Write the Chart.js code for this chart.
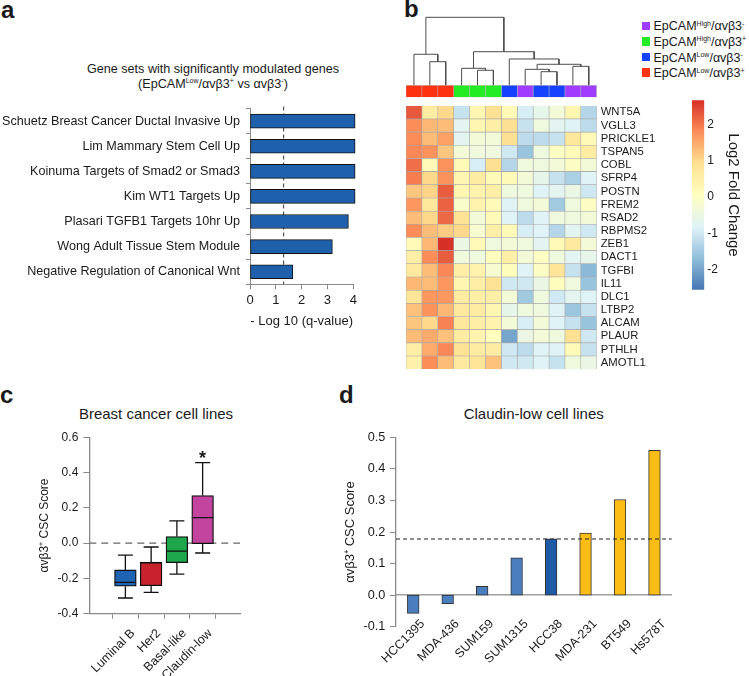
<!DOCTYPE html>
<html><head><meta charset="utf-8">
<script src="https://cdn.jsdelivr.net/npm/chart.js@4.4.1/dist/chart.umd.min.js"></script>
<style>
html,body{margin:0;padding:0;background:#fff;}
body{width:749px;height:676px;position:relative;overflow:hidden;font-family:"Liberation Sans",Arial,sans-serif;color:#1a1a1a;}
canvas{position:absolute;}
.t{position:absolute;white-space:nowrap;line-height:1;transform:translate(-50%,-50%);}
.tl{position:absolute;white-space:nowrap;line-height:1;transform:translate(0,-50%);}
.lbl{position:absolute;font-weight:bold;font-size:24px;line-height:24px;}
.sp{font-size:7px;position:relative;top:-4.5px;}
.sq{position:absolute;width:8.3px;height:8.3px;}
</style></head>
<body>
<div class="lbl" style="left:1px;top:-2.3px">a</div>
<div class="lbl" style="left:404px;top:-3.3px">b</div>
<div class="lbl" style="left:0px;top:382.7px">c</div>
<div class="lbl" style="left:339px;top:382.7px">d</div>

<div class="t" style="left:213px;top:69.3px;font-size:12.6px">Gene sets with significantly modulated genes</div>
<div class="t" style="left:213px;top:83.5px;font-size:12.6px">(EpCAM<span class="sp">Low</span>/αvβ3<span class="sp">+</span> vs αvβ3<span class="sp">-</span>)</div>

<div class="t" style="left:156px;top:412.7px;font-size:15px">Breast cancer cell lines</div>
<div class="t" style="left:533.7px;top:412.7px;font-size:15px">Claudin-low cell lines</div>

<div id="legend"></div>

<script>
// ---------------- DATA ----------------
// Panel a
const geneSetLabels = [
  'Schuetz Breast Cancer Ductal Invasive Up',
  'Lim Mammary Stem Cell Up',
  'Koinuma Targets of Smad2 or Smad3',
  'Kim WT1 Targets Up',
  'Plasari TGFB1 Targets 10hr Up',
  'Wong Adult Tissue Stem Module',
  'Negative Regulation of Canonical Wnt'
];
const geneSetValues = [4.07, 4.07, 4.07, 4.07, 3.81, 3.19, 1.66];
const qThreshold = 1.3;
const geneSetTicks = [0, 1, 2, 3, 4];

// Panel b
const heatmapGenes = ['WNT5A','VGLL3','PRICKLE1','TSPAN5','COBL','SFRP4','POSTN','FREM2','RSAD2','RBPMS2',
  'ZEB1','DACT1','TGFBI','IL11','DLC1','LTBP2','ALCAM','PLAUR','PTHLH','AMOTL1'];
const heatmapGroups = ['LowPos','LowPos','LowPos','HighPos','HighPos','HighPos','LowNeg','HighNeg','LowNeg','LowNeg','HighNeg','HighNeg'];
const heatmapValues = [
  [2.3, 0.6, 1.0, -1.1, 0.3, 0.9, 0.2, -0.9, -0.6, -0.3, 0.3, -1.3],
  [1.8, 1.35, 1.3, -0.7, 0.3, 0.5, 0.9, -1.1, -0.4, -0.7, -0.8, -1.2],
  [1.8, 1.3, 1.6, -0.7, -0.3, -0.3, 0.9, -1.2, -1.2, -1.1, 0.7, 0.2],
  [1.85, 1.75, 1.2, -0.3, -0.4, -0.4, -1.0, -1.6, -0.4, 0.0, 0.2, 0.6],
  [2.1, 0.2, 1.75, 0.2, -0.9, 0.9, -1.3, -0.4, -0.4, -0.3, 0.0, -0.3],
  [1.95, 1.0, 1.75, 0.3, 0.6, 0.2, 0.2, -0.3, -0.6, -1.1, -1.4, -0.8],
  [1.2, 1.05, 2.25, 0.3, 0.4, 0.5, -0.4, -0.4, -0.8, -0.7, -0.5, -1.0],
  [1.7, 0.7, 2.2, -0.1, 0.4, 0.2, -0.8, -0.4, -0.3, -1.5, -0.4, 0.0],
  [1.3, 1.0, 2.15, 0.85, -0.3, 0.2, -0.8, -1.2, -0.8, -0.4, -0.4, -0.3],
  [1.8, 1.3, 1.15, 1.0, -0.2, 0.5, 0.2, -0.9, -0.8, -1.3, -0.7, -1.0],
  [0.2, 1.35, 2.67, -0.5, 0.2, -0.4, -0.3, -0.4, -0.7, 0.2, 0.65, -0.3],
  [0.5, 1.8, 2.25, -0.4, -0.4, 0.1, 0.5, -0.3, 0.0, -0.4, -0.7, -0.6],
  [0.65, 1.3, 1.85, 0.5, 0.4, -0.2, 0.1, -0.8, 0.0, 0.8, -1.1, -1.75],
  [1.35, 1.3, 1.7, 0.3, 0.5, 0.85, -1.0, -1.0, -0.5, 0.1, -0.4, -1.6],
  [0.8, 1.7, 1.7, 0.6, 0.5, 0.5, -0.3, -1.5, -0.4, -1.0, -0.7, -0.8],
  [1.25, 1.75, 1.35, 0.65, 0.6, 0.3, -0.6, -0.4, -0.4, -0.8, -1.55, -1.1],
  [1.2, 1.0, 1.9, 0.7, 0.5, 0.4, -0.3, -0.9, -0.3, -0.8, -1.1, -1.6],
  [1.3, 1.5, 1.25, 0.6, 0.4, 0.1, -2.0, -0.5, -0.3, -0.4, 0.9, -1.0],
  [0.5, 1.5, 1.85, 0.85, 0.6, 0.6, -1.0, -1.2, -0.8, -0.8, 0.2, -1.1],
  [0.45, 1.8, 1.3, 0.65, 0.8, 1.25, -1.0, -1.0, -0.8, -1.1, -0.4, -0.5]
];
// hierarchical clustering merges: [childA, childB, height]; leaves 0..11, merge k -> node 12+k
const dendroMerges = [
  [1, 2, 3.47],
  [0, 12, 4.56],
  [4, 5, 2.21],
  [3, 14, 2.50],
  [8, 9, 2.00],
  [7, 16, 2.35],
  [10, 11, 2.79],
  [17, 18, 3.09],
  [6, 19, 3.87],
  [15, 20, 4.94],
  [13, 21, 10.0]
];
const legendGroups = ['HighNeg', 'HighPos', 'LowNeg', 'LowPos'];
const legendLabels = {
  HighNeg: 'EpCAM<span class="sp">High</span>/αvβ3<span class="sp">-</span>',
  HighPos: 'EpCAM<span class="sp">High</span>/αvβ3<span class="sp">+</span>',
  LowNeg: 'EpCAM<span class="sp">Low</span>/αvβ3<span class="sp">-</span>',
  LowPos: 'EpCAM<span class="sp">Low</span>/αvβ3<span class="sp">+</span>'
};
const colorbarRange = [-2.55, 2.67];
const colorbarTicks = [-2, -1, 0, 1, 2];

// Panel c
const boxCategories = ['Luminal B', 'Her2', 'Basal-like', 'Claudin-low'];
const boxMin    = [-0.311, -0.279, -0.176, -0.056];
const boxQ1     = [-0.244, -0.241, -0.111, -0.003];
const boxMedian = [-0.222, -0.112, -0.046, 0.144];
const boxQ3     = [-0.152, -0.108, 0.037, 0.269];
const boxMax    = [-0.068, -0.022, 0.126, 0.456];
const boxSignificance = ['', '', '', '*'];

// Panel d
const claudinLines = ['HCC1395', 'MDA-436', 'SUM159', 'SUM1315', 'HCC38', 'MDA-231', 'BT549', 'Hs578T'];
const claudinScores = [-0.058, -0.027, 0.028, 0.118, 0.178, 0.197, 0.303, 0.459];
const claudinThreshold = 0.178;

// ---------------- STYLES ----------------
const FONT = '"Liberation Sans", Arial, sans-serif';
const palette = ['#4575B4','#91BFDB','#E0F3F8','#FFFFBF','#FEE090','#FC8D59','#D73027'];
const groupColors = {LowPos:'#ff3212', HighPos:'#24ec24', LowNeg:'#1442ff', HighNeg:'#a03cff'};
const boxColors = ['#1f63b3', '#c8232c', '#1ea64b', '#c2449f'];
const claudinColors = ['#4a7ebf','#4a7ebf','#4a7ebf','#4a7ebf','#1f5aa6','#fbbc16','#fbbc16','#fbbc16'];
const axisGrey = '#8a8a8a';

Chart.defaults.font.family = FONT;
Chart.defaults.color = '#1a1a1a';
Chart.defaults.animation = false;
Chart.defaults.responsive = false;
Chart.defaults.devicePixelRatio = 1;
Chart.defaults.events = [];
Chart.defaults.plugins.legend.display = false;
Chart.defaults.plugins.tooltip.enabled = false;

function makeCanvas(left, top, w, h) {
  const c = document.createElement('canvas');
  c.width = w; c.height = h;
  c.style.left = left + 'px'; c.style.top = top + 'px';
  c.style.width = w + 'px'; c.style.height = h + 'px';
  document.body.appendChild(c);
  return c;
}
function hexToRgb(h) { return [parseInt(h.slice(1,3),16), parseInt(h.slice(3,5),16), parseInt(h.slice(5,7),16)]; }
function valueToColor(v) {
  let t = (v - colorbarRange[0]) / (colorbarRange[1] - colorbarRange[0]);
  t = Math.max(0, Math.min(1, t));
  const s = t * (palette.length - 1);
  const i = Math.min(Math.floor(s), palette.length - 2);
  const f = s - i;
  const a = hexToRgb(palette[i]), b = hexToRgb(palette[i+1]);
  const c = a.map((x, k) => Math.round(x + (b[k] - x) * f));
  return 'rgb(' + c.join(',') + ')';
}

// ---------------- LEGEND (b) ----------------
const legendEl = document.getElementById('legend');
legendGroups.forEach((g, i) => {
  const y = 25.8 + i * 15.6;
  const sq = document.createElement('div');
  sq.className = 'sq'; sq.style.left = '641.7px'; sq.style.top = (y - 4.15) + 'px'; sq.style.background = groupColors[g];
  legendEl.appendChild(sq);
  const tx = document.createElement('div');
  tx.className = 'tl'; tx.style.left = '653.5px'; tx.style.top = (y + 0.5) + 'px'; tx.style.fontSize = '12.5px';
  tx.innerHTML = legendLabels[g];
  legendEl.appendChild(tx);
});

// ---------------- PANEL A ----------------
new Chart(makeCanvas(0, 95, 370, 240), {
  type: 'bar',
  data: { labels: geneSetLabels, datasets: [{
    data: geneSetValues, backgroundColor: '#1f60ad', borderColor: '#111', borderWidth: 1,
    borderSkipped: false, barThickness: 14, clip: false }] },
  options: {
    indexAxis: 'y',
    layout: { padding: { top: 13, right: 16.7, bottom: 0, left: 0 } },
    scales: {
      x: { type: 'linear', min: 0, max: 4,
        afterBuildTicks: ax => { ax.ticks = geneSetTicks.map(v => ({ value: v })); },
        ticks: { padding: 3, font: { size: 13 }, color: '#1a1a1a' },
        grid: { drawOnChartArea: false, tickLength: 5, color: axisGrey },
        border: { color: axisGrey, width: 1 },
        title: { display: true, text: '- Log 10 (q-value)', font: { size: 13 }, color: '#1a1a1a', padding: { top: 0, bottom: 6.2 } },
        afterFit: s => { s.height = 50.7; } },
      y: { type: 'category',
        ticks: { padding: 6, font: { size: 12.6 }, color: '#1a1a1a', autoSkip: false },
        grid: { drawOnChartArea: false, tickLength: 4, color: axisGrey },
        border: { color: axisGrey, width: 1 },
        afterFit: s => { s.width = 250; } }
    }
  },
  plugins: [{ id: 'qline', beforeDatasetsDraw(ch) {
    const ctx = ch.ctx, x = ch.scales.x.getPixelForValue(qThreshold), a = ch.chartArea;
    ctx.save(); ctx.setLineDash([4, 3]); ctx.strokeStyle = '#555'; ctx.lineWidth = 1.2;
    ctx.beginPath(); ctx.moveTo(x, a.top - 2); ctx.lineTo(x, a.bottom); ctx.stroke(); ctx.restore();
  } }]
});

// ---------------- PANEL B: dendrogram ----------------
const nodePos = [], nodeH = [];
heatmapGroups.forEach((g, i) => { nodePos[i] = i + 0.5; nodeH[i] = 0; });
const dendroSets = dendroMerges.map(([a, b, h], k) => {
  const id = heatmapGroups.length + k;
  nodePos[id] = (nodePos[a] + nodePos[b]) / 2; nodeH[id] = h;
  return { data: [{x: nodePos[a], y: nodeH[a]}, {x: nodePos[a], y: h}, {x: nodePos[b], y: h}, {x: nodePos[b], y: nodeH[b]}],
    showLine: true, pointRadius: 0, borderColor: '#4d4d4d', borderWidth: 1, clip: false, tension: 0, fill: false };
});
new Chart(makeCanvas(400, 10, 200, 80), {
  type: 'scatter',
  data: { datasets: dendroSets },
  options: {
    layout: { padding: { left: 6, right: 3.3, top: 7.3, bottom: 4.7 } },
    scales: { x: { type: 'linear', min: 0, max: heatmapGroups.length, display: false },
              y: { type: 'linear', min: 0, max: 10, display: false } }
  }
});

// annotation bar
new Chart(makeCanvas(400, 80, 200, 20), {
  type: 'bar',
  data: { labels: [''], datasets: heatmapGroups.map((g, j) => ({
    data: [[j, j + 1]], backgroundColor: groupColors[g], borderColor: '#b4b4b4', borderWidth: 0.6,
    borderSkipped: false, barPercentage: 1, categoryPercentage: 1, grouped: false })) },
  options: {
    indexAxis: 'y',
    layout: { padding: { left: 6, right: 3.3, top: 5.3, bottom: 2.7 } },
    scales: { x: { type: 'linear', min: 0, max: heatmapGroups.length, display: false },
              y: { type: 'category', display: false } }
  }
});

// heatmap
new Chart(makeCanvas(400, 95, 270, 285), {
  type: 'bar',
  data: { labels: heatmapGenes, datasets: heatmapGroups.map((g, j) => ({
    data: heatmapGenes.map(() => [j, j + 1]),
    backgroundColor: heatmapValues.map(row => valueToColor(row[j])),
    borderColor: '#a6a6a6', borderWidth: 0.6, borderSkipped: false,
    barPercentage: 1, categoryPercentage: 1, grouped: false })) },
  options: {
    indexAxis: 'y',
    layout: { padding: { left: 6, right: 0, top: 6, bottom: 7 } },
    scales: {
      x: { type: 'linear', min: 0, max: heatmapGroups.length, display: false },
      y: { type: 'category', position: 'right',
        grid: { display: false, drawTicks: false }, border: { display: false },
        ticks: { padding: 4, font: { size: 11.3 }, color: '#1a1a1a', autoSkip: false },
        afterFit: s => { s.width = 73.3; } }
    }
  }
});

// colour bar
new Chart(makeCanvas(680, 90, 69, 210), {
  type: 'bar',
  data: { labels: [''], datasets: [{
    data: [colorbarRange],
    backgroundColor: (ctx) => {
      const ch = ctx.chart;
      if (!ch.chartArea) return palette[3];
      const ys = ch.scales.y;
      const g = ch.ctx.createLinearGradient(0, ys.getPixelForValue(colorbarRange[0]), 0, ys.getPixelForValue(colorbarRange[1]));
      palette.forEach((c, i) => g.addColorStop(i / (palette.length - 1), c));
      return g;
    },
    borderWidth: 0, barPercentage: 1, categoryPercentage: 1 }] },
  options: {
    layout: { padding: { left: 12, right: 0, top: 10, bottom: 10 } },
    scales: {
      x: { type: 'category', display: false },
      y: { type: 'linear', position: 'right', min: colorbarRange[0], max: colorbarRange[1],
        afterBuildTicks: ax => { ax.ticks = colorbarTicks.map(v => ({ value: v })); },
        grid: { display: false, drawTicks: false }, border: { display: false },
        ticks: { padding: 3, font: { size: 12 }, color: '#1a1a1a' },
        title: { display: true, text: 'Log2 Fold Change', font: { size: 15 }, color: '#1a1a1a', padding: { top: 7.3, bottom: 0 } },
        afterFit: s => { s.width = 44.7; } }
    }
  }
});

// ---------------- PANEL C ----------------
new Chart(makeCanvas(0, 425, 260, 251), {
  type: 'bar',
  data: { datasets: [{
    data: boxCategories.map((c, i) => ({ x: i + 1, y: [boxQ1[i], boxQ3[i]] })),
    backgroundColor: boxColors, borderColor: '#111', borderWidth: 1.3, borderSkipped: false, barThickness: 21.7 }] },
  options: {
    layout: { padding: { top: 8.3, right: 20, bottom: 0, left: 0 } },
    scales: {
      x: { type: 'linear', min: 0.33, max: 4.72,
        afterBuildTicks: ax => { ax.ticks = boxCategories.map((c, i) => ({ value: i + 1 })); },
        ticks: { callback: (v, i) => boxCategories[i], minRotation: 45, maxRotation: 45, padding: 7.3, labelOffset: 7.5,
          font: { size: 12.5 }, color: '#1a1a1a' },
        grid: { drawOnChartArea: false, tickLength: 5, color: axisGrey },
        border: { color: axisGrey, width: 1.3 },
        afterFit: s => { s.height = 62.3; } },
      y: { type: 'linear', min: -0.4, max: 0.6,
        ticks: { stepSize: 0.2, padding: 5, font: { size: 12 }, color: '#1a1a1a',
          callback: v => (Math.abs(v) < 1e-9 ? 0 : v).toFixed(1) },
        grid: { drawOnChartArea: false, tickLength: 6, color: axisGrey },
        border: { color: axisGrey, width: 1.3 },
        title: { display: true, text: 'αvβ3⁺ CSC Score', font: { size: 12 }, color: '#1a1a1a', padding: { top: 37.8, bottom: 0 } },
        afterFit: s => { s.width = 89.3; } }
    }
  },
  plugins: [{ id: 'boxparts',
    beforeDatasetsDraw(ch) {
      const ctx = ch.ctx, a = ch.chartArea, y0 = ch.scales.y.getPixelForValue(0);
      ctx.save(); ctx.setLineDash([7, 5]); ctx.strokeStyle = '#666'; ctx.lineWidth = 1.3;
      ctx.beginPath(); ctx.moveTo(a.left, y0); ctx.lineTo(a.right, y0); ctx.stroke(); ctx.restore();
    },
    afterDatasetsDraw(ch) {
      const ctx = ch.ctx, xs = ch.scales.x, ys = ch.scales.y;
      ctx.save(); ctx.strokeStyle = '#111'; ctx.lineWidth = 1.3;
      boxCategories.forEach((c, i) => {
        const x = xs.getPixelForValue(i + 1);
        const pMin = ys.getPixelForValue(boxMin[i]), pQ1 = ys.getPixelForValue(boxQ1[i]);
        const pMed = ys.getPixelForValue(boxMedian[i]), pQ3 = ys.getPixelForValue(boxQ3[i]);
        const pMax = ys.getPixelForValue(boxMax[i]);
        ctx.beginPath();
        ctx.moveTo(x, pQ3); ctx.lineTo(x, pMax);
        ctx.moveTo(x - 7.5, pMax); ctx.lineTo(x + 7.5, pMax);
        ctx.moveTo(x, pQ1); ctx.lineTo(x, pMin);
        ctx.moveTo(x - 7.5, pMin); ctx.lineTo(x + 7.5, pMin);
        ctx.moveTo(x - 10.85, pMed); ctx.lineTo(x + 10.85, pMed);
        ctx.stroke();
        if (boxSignificance[i]) {
          ctx.fillStyle = '#1a1a1a'; ctx.font = 'bold 18px ' + FONT; ctx.textAlign = 'center'; ctx.textBaseline = 'alphabetic';
          ctx.fillText(boxSignificance[i], x, pMax + 1);
        }
      });
      ctx.restore();
    } }]
});

// ---------------- PANEL D ----------------
new Chart(makeCanvas(330, 425, 419, 251), {
  type: 'bar',
  data: { labels: claudinLines, datasets: [{
    data: claudinScores, backgroundColor: claudinColors, borderColor: '#333', borderWidth: 1,
    borderSkipped: false, barThickness: 11.7 }] },
  options: {
    layout: { padding: { top: 8.3, right: 77.3, bottom: 49.3, left: 0 } },
    scales: {
      x: { type: 'category', position: { y: 0 },
        grid: { display: false, drawTicks: false },
        border: { display: true, color: '#a0a0a0', width: 1.5 },
        ticks: { minRotation: 45, maxRotation: 45, padding: 21.5, labelOffset: 9.5, font: { size: 12.5 }, color: '#1a1a1a', autoSkip: false } },
      y: { type: 'linear', min: -0.1, max: 0.5,
        ticks: { stepSize: 0.1, padding: 4.7, font: { size: 12.7 }, color: '#1a1a1a',
          callback: v => (Math.abs(v) < 1e-9 ? 0 : v).toFixed(1) },
        grid: { drawOnChartArea: false, tickLength: 6, color: axisGrey },
        border: { color: axisGrey, width: 1.3 },
        title: { display: true, text: 'αvβ3⁺ CSC Score', font: { size: 13 }, color: '#1a1a1a', padding: { top: 12.2, bottom: 0 } },
        afterFit: s => { s.width = 66; } }
    }
  },
  plugins: [{ id: 'thresh', afterDatasetsDraw(ch) {
    const ctx = ch.ctx, a = ch.chartArea, y = ch.scales.y.getPixelForValue(claudinThreshold);
    ctx.save(); ctx.setLineDash([4, 3]); ctx.strokeStyle = '#222'; ctx.lineWidth = 1.1;
    ctx.beginPath(); ctx.moveTo(a.left, y); ctx.lineTo(a.right, y); ctx.stroke(); ctx.restore();
  } }]
});
</script>
</body></html>
